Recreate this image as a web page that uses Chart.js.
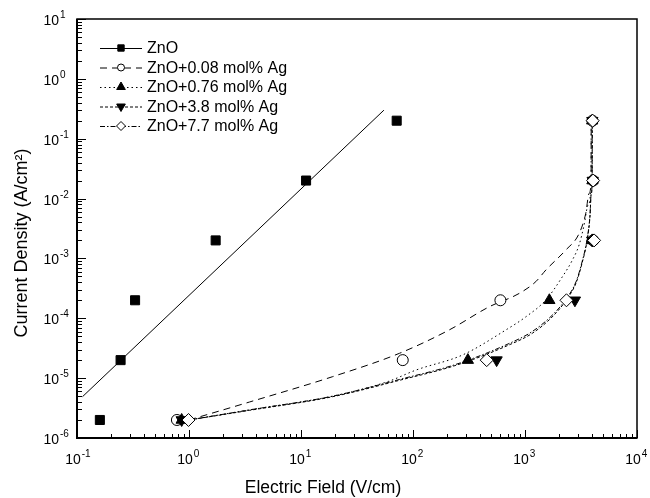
<!DOCTYPE html>
<html>
<head>
<meta charset="utf-8">
<script src="https://cdn.jsdelivr.net/npm/chart.js@4.4.0/dist/chart.umd.min.js"></script>
<style>
  html, body { margin: 0; padding: 0; background: #fff; }
</style>
</head>
<body>
<canvas id="ivChart" width="650" height="498"></canvas>
<script>
// measured points (current density is the same set of levels for every sample)
const currentLevels = [2e-6, 2e-5, 2e-4, 2e-3, 2e-2, 0.2];
const fieldZnO = [0.16, 0.245, 0.33, 1.73, 11.1, 71.5];
const field008 = [0.78, 81, 603, 4050, 4050, 4000];
const field076 = [0.86, 309, 1650, 3980, 4000, 3980];
const field38 = [0.86, 558, 2790, 3980, 4020, 3990];
const field77 = [0.99, 455, 2345, 4140, 4060, 4020];

// fitted curves
const fitZnOField = [0.112, 55];
const fitZnOJ = [4.9e-6, 0.30];
const fit008Field = [1.0, 3.48, 19.2, 75.7, 211, 480, 887, 1250, 1535, 2313, 3040, 3490, 3735, 3890, 3900];
const fit008J = [2e-6, 4.0e-6, 1.06e-5, 2.6e-5, 6.4e-5, 1.56e-4, 2.6e-4, 4.1e-4, 6.4e-4, 1.38e-3, 2.6e-3, 5.7e-3, 1.22e-2, 2e-2, 0.2];
const fit076Field = [1.0, 3.48, 19.2, 60, 107, 277, 676, 1019, 1535, 2158, 2650, 3040, 3370, 3660, 3890, 3900];
const fit076J = [2e-6, 2.95e-6, 5.0e-6, 8.8e-6, 1.37e-5, 2.44e-5, 6.4e-5, 1.06e-4, 2.02e-4, 4.95e-4, 9.4e-4, 1.68e-3, 3.6e-3, 7.8e-3, 2e-2, 0.2];
const fit38Field = [1.0, 3.48, 19.2, 75.7, 242, 723, 1159, 1746, 2328, 2858, 3235, 3583, 3810, 3890, 3975, 3985];
const fit38J = [2e-6, 2.9e-6, 4.9e-6, 9.2e-6, 1.64e-5, 3.6e-5, 5.6e-5, 1.05e-4, 2.0e-4, 3.9e-4, 8.4e-4, 2.0e-3, 5.3e-3, 1.15e-2, 2e-2, 0.2];
const fit77Field = [1.0, 3.48, 19.2, 75.7, 242, 723, 1159, 1746, 2328, 2858, 3235, 3583, 3810, 3890, 3975, 3985];
const fit77J = [2e-6, 2.95e-6, 5.0e-6, 9.5e-6, 1.7e-5, 3.8e-5, 6.0e-5, 1.12e-4, 2.1e-4, 4.1e-4, 8.8e-4, 2.1e-3, 5.5e-3, 1.18e-2, 2e-2, 0.2];

const seriesNames = ['ZnO', 'ZnO+0.08 mol% Ag', 'ZnO+0.76 mol% Ag', 'ZnO+3.8 mol% Ag', 'ZnO+7.7 mol% Ag'];
const xTickExps = [-1, 0, 1, 2, 3, 4];
const yTickExps = [-6, -5, -4, -3, -2, -1, 0, 1];
const xTitle = 'Electric Field (V/cm)';
const yTitle = 'Current Density (A/cm²)';

const FONT = '"Liberation Sans", Arial, sans-serif';

const styles = [
    { dash: [], point: 'rect', radius: 6.4, fill: '#000', rotation: 0, legendRadius: 4.5 },
    { dash: [7, 5], point: 'circle', radius: 5.5, fill: '#fff', rotation: 0, legendRadius: 3.5 },
    { dash: [1.5, 3], point: 'triangle', radius: 6.5, fill: '#000', rotation: 0, legendRadius: 5 },
    { dash: [3, 2], point: 'triangle', radius: 6.5, fill: '#000', rotation: 180, legendRadius: 5 },
    { dash: [5, 2, 1.5, 2], point: 'rectRot', radius: 6.5, fill: '#fff', rotation: 0, legendRadius: 4.5 },
];

function pts(xs, ys) {
    return xs.map((x, i) => ({ x: x, y: ys[i] }));
}

function fitSet(xs, ys, k) {
    return {
        data: pts(xs, ys),
        showLine: true,
        borderColor: '#000',
        borderWidth: 1,
        borderDash: styles[k].dash,
        pointRadius: 0,
        cubicInterpolationMode: 'monotone',
        order: 20,
    };
}

// lower order is drawn on top: diamonds end up over the others, as in the figure
function markerSet(xs, k) {
    const s = styles[k];
    return {
        data: pts(xs, currentLevels),
        showLine: false,
        pointStyle: s.point,
        pointRadius: s.radius,
        pointRotation: s.rotation,
        pointBackgroundColor: s.fill,
        pointBorderColor: '#000',
        pointBorderWidth: 1,
        order: 10 - k,
    };
}

const datasets = [
    fitSet(fitZnOField, fitZnOJ, 0),
    fitSet(fit008Field, fit008J, 1),
    fitSet(fit076Field, fit076J, 2),
    fitSet(fit38Field, fit38J, 3),
    fitSet(fit77Field, fit77J, 4),
    markerSet(fieldZnO, 0),
    markerSet(field008, 1),
    markerSet(field076, 2),
    markerSet(field38, 3),
    markerSet(field77, 4),
];

function drawPow(ctx, exp, x, y, align) {
    ctx.font = '14px ' + FONT;
    const w = ctx.measureText('10').width;
    const e = String(exp);
    let left;
    if (align === 'center') left = x - 4 - w / 2;
    else left = x - w;
    ctx.textAlign = 'left';
    ctx.textBaseline = 'alphabetic';
    ctx.fillText('10', left, y);
    ctx.font = '10px ' + FONT;
    ctx.fillText(e, left + w + 1, y - 7);
}

const decor = {
    id: 'decor',
    afterDraw(chart) {
        const ctx = chart.ctx;
        const a = chart.chartArea;
        const xs = chart.scales.x;
        const ys = chart.scales.y;
        ctx.save();
        ctx.strokeStyle = '#000';
        ctx.fillStyle = '#000';
        ctx.setLineDash([]);

        // inward ticks
        ctx.lineWidth = 1;
        ctx.beginPath();
        for (let e = xTickExps[0]; e <= xTickExps[xTickExps.length - 1]; e++) {
            for (let m = 1; m <= 9; m++) {
                if (e === xTickExps[xTickExps.length - 1] && m > 1) break;
                const px = Math.round(xs.getPixelForValue(m * Math.pow(10, e))) + 0.5;
                const len = m === 1 ? 8 : 4;
                ctx.moveTo(px, a.bottom);
                ctx.lineTo(px, a.bottom - len);
            }
        }
        for (let e = yTickExps[0]; e <= yTickExps[yTickExps.length - 1]; e++) {
            for (let m = 1; m <= 9; m++) {
                if (e === yTickExps[yTickExps.length - 1] && m > 1) break;
                const py = Math.round(ys.getPixelForValue(m * Math.pow(10, e))) + 0.5;
                const len = m === 1 ? 9 : 5;
                ctx.moveTo(a.left, py);
                ctx.lineTo(a.left + len, py);
            }
        }
        ctx.stroke();

        // frame
        ctx.lineWidth = 1.5;
        ctx.strokeRect(a.left, a.top, a.right - a.left, a.bottom - a.top);
        ctx.lineWidth = 2;
        ctx.beginPath();
        ctx.moveTo(a.left, a.top);
        ctx.lineTo(a.left, a.bottom);
        ctx.lineTo(a.right, a.bottom);
        ctx.stroke();

        // tick labels
        xTickExps.forEach(e => {
            drawPow(ctx, e, xs.getPixelForValue(Math.pow(10, e)), a.bottom + 26, 'center');
        });
        yTickExps.forEach(e => {
            drawPow(ctx, e, 59, ys.getPixelForValue(Math.pow(10, e)) + 6, 'right');
        });

        // axis titles
        ctx.font = '17.5px ' + FONT;
        ctx.textAlign = 'center';
        ctx.textBaseline = 'alphabetic';
        ctx.fillText(xTitle, 323, 493);
        ctx.save();
        ctx.translate(27, 243);
        ctx.rotate(-Math.PI / 2);
        ctx.font = '18px ' + FONT;
        ctx.fillText(yTitle, 0, 0);
        ctx.restore();

        // legend
        seriesNames.forEach((name, i) => {
            const s = styles[i];
            const y = 48 + i * 19.5;
            ctx.lineWidth = 1;
            ctx.setLineDash(s.dash);
            ctx.beginPath();
            ctx.moveTo(100, y + 0.5);
            ctx.lineTo(142, y + 0.5);
            ctx.stroke();
            ctx.setLineDash([]);
            ctx.fillStyle = s.fill;
            Chart.helpers.drawPoint(ctx, {
                pointStyle: s.point,
                radius: s.legendRadius,
                rotation: s.rotation,
                borderWidth: 1,
            }, 121, y);
            ctx.fillStyle = '#000';
            ctx.font = '16px ' + FONT;
            ctx.textAlign = 'left';
            ctx.textBaseline = 'middle';
            ctx.fillText(name, 147, y + 1);
        });
        ctx.restore();
    }
};

const ctx = document.getElementById('ivChart').getContext('2d');
new Chart(ctx, {
    type: 'scatter',
    data: { datasets: datasets },
    options: {
        responsive: false,
        animation: false,
        layout: { padding: { left: 77, right: 13, top: 19, bottom: 60 } },
        plugins: { legend: { display: false }, tooltip: { enabled: false } },
        scales: {
            x: { type: 'logarithmic', min: 0.1, max: 10000, display: false },
            y: { type: 'logarithmic', min: 1e-6, max: 10, display: false },
        },
    },
    plugins: [decor],
});
</script>
</body>
</html>
